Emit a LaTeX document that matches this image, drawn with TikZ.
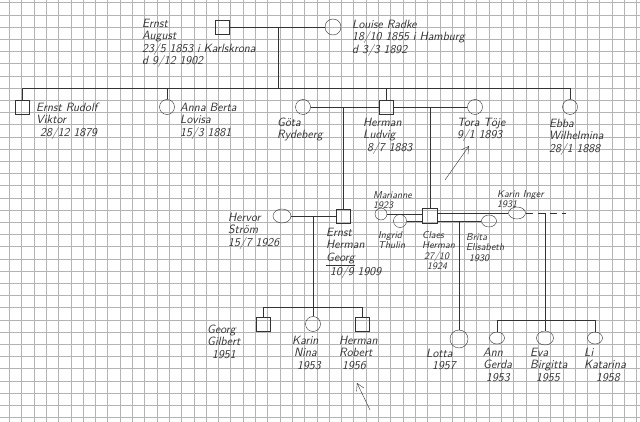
\documentclass[tikz,border=0pt]{standalone}
\usepackage{tikz}
\usetikzlibrary{positioning,arrows.meta,shapes.geometric}
\definecolor{pencil}{HTML}{333333}
\definecolor{paper}{HTML}{B4B4B4}

\begin{document}
\begin{tikzpicture}[x=1pt, y=-1pt,
    male/.style={draw=pencil, thin, minimum size=14pt, inner sep=0pt},
    female/.style={draw=pencil, thin, ellipse, minimum width=15pt,
    minimum height=15pt, inner sep=0pt},
    tie/.style={draw=pencil, thin},
    txt/.style={text=pencil, font=\sffamily\slshape\fontsize{12}{12.3}\selectfont,
    align=left, anchor=north west, inner sep=0pt},
    small/.style={txt, font=\sffamily\slshape\fontsize{10}{10.5}\selectfont},
    note/.style={draw=pencil, thin, -{Straight Barb[length=7pt,width=8pt]}},
  ]
  \fill[white] (0,0) rectangle (640,422);
  \useasboundingbox (0,0) rectangle (640,422);

  % graph paper
  \foreach \gx in {0,...,51}
    \draw[paper, line width=0.5pt] ({9.3+12.3*\gx},0) -- ++(0,422);
  \foreach \gy in {0,...,34}
    \draw[paper, line width=0.5pt] (0,{2.7+12.2*\gy}) -- ++(640,0);

  % first generation
  \node[male] (ernsta) at (222,27) {};
  \node[female, minimum size=16pt] (louise) at (333,27) {};
  \draw[tie] (ernsta) -- (louise);
  \coordinate (m1) at (278,27);
  \coordinate (s1w) at (22,88);
  \coordinate (s1e) at (570,88);
  \draw[tie] (m1) -- (m1 |- s1w);
  \draw[tie] (s1w) -- (s1e);

  % second generation
  \node[male] (rudolf) at (22,107) {};
  \node[female] (anna) at (167,107) {};
  \node[female] (gota) at (303,107) {};
  \node[male] (hermanl) at (386,107) {};
  \node[female] (tora) at (475,107) {};
  \node[female] (ebba) at (570,107) {};
  \foreach \c in {rudolf, anna, hermanl, ebba}
    \draw[tie] (\c.north) -- (\c.north |- s1w);
  \draw[tie] (gota) -- (hermanl) -- (tora);
  \coordinate (m2) at (343,107);
  \coordinate (m3) at (430,107);

  % third generation
  \node[female, minimum width=18pt, minimum height=14pt] (hervor) at (282,216) {};
  \node[male] (ernstg) at (343,216) {};
  \node[female, minimum size=12pt] (marianne) at (381,214) {};
  \node[female, minimum size=13pt] (ingrid) at (400,221) {};
  \node[male, minimum size=15pt] (claes) at (430,216) {};
  \node[female, minimum width=15pt, minimum height=12pt] (brita) at (489,221) {};
  \node[female, minimum width=17pt, minimum height=12pt] (karini) at (517,213) {};
  \draw[tie] (m2) -- (ernstg);
  \draw[tie] (m3) -- (claes);
  \draw[tie] (hervor) -- (ernstg);
  \draw[tie] (marianne) -- (marianne -| claes.west);
  \draw[tie] (ingrid) -- (ingrid -| claes.west);
  \draw[tie] (karini -| claes.east) -- (karini);
  \draw[tie] (brita -| claes.east) -- (brita);
  \draw[tie, dash pattern=on 7pt off 5pt] (karini.east) -- ++(40,0);
  \coordinate (m4) at (313,216);
  \coordinate (m5) at (459,221);
  \coordinate (m6) at (545,213);

  % fourth generation
  \coordinate (s4w) at (263,307);
  \coordinate (s4e) at (362,307);
  \coordinate (s6w) at (497,320);
  \coordinate (s6e) at (595,320);
  \node[male] (georgg) at (263,324) {};
  \node[female] (karinn) at (313,324) {};
  \node[male] (hermanr) at (362,324) {};
  \node[female, minimum size=18pt] (lotta) at (459,339) {};
  \node[female, minimum width=15pt, minimum height=12pt] (ann) at (497,338) {};
  \node[female, minimum width=17pt, minimum height=14pt] (eva) at (545,338) {};
  \node[female, minimum width=15pt, minimum height=12pt] (katarina) at (595,338) {};
  \draw[tie] (m4) -- (m4 |- s4w);
  \draw[tie] (s4w) -- (s4e);
  \foreach \c in {georgg, karinn, hermanr}
    \draw[tie] (\c.north) -- (\c.north |- s4w);
  \draw[tie] (m5) -- (lotta);
  \draw[tie] (m6) -- (m6 |- s6w);
  \draw[tie] (s6w) -- (s6e);
  \foreach \c in {ann, eva, katarina}
    \draw[tie] (\c.north) -- (\c.north |- s6w);

  % names and dates
  \node[txt] (t-ernsta) at (142,19) {Ernst\\August\\23/5 1853 i Karlskrona\\d 9/12 1902};
  \node[txt] (t-louise) at (352,20) {Louise Radke\\18/10 1855 i Hamburg\\d 3/3 1892};
  \node[txt] (t-rudolf) at (36,103) {Ernst Rudolf\\Viktor\\\hspace{4pt}28/12 1879};
  \node[txt] (t-anna) at (180,103) {Anna Berta\\Lovisa\\15/3 1881};
  \node[txt] (t-gota) at (277,118) {Göta\\Rydeberg};
  \node[txt] (t-hermanl) at (363,118) {Herman\\Ludvig\\\hspace{4pt}8/7 1883};
  \node[txt] (t-tora) at (457,118) {Tora Töje\\9/1 1893};
  \node[txt] (t-ebba) at (549,119) {Ebba\\Wilhelmina\\28/1 1888};
  \node[txt] (t-hervor) at (228,213) {Hervor\\Ström\\15/7 1926};
  \node[txt] (t-ernstg) at (326,228) {Ernst\\Herman\\\underline{Georg}\\\hspace{4pt}10/9 1909};
  \node[small] (t-marianne) at (373,191) {Marianne\\1923};
  \node[small] (t-ingrid) at (378,231) {Ingrid\\Thulin};
  \node[small] (t-claes) at (422,231) {Claes\\Herman\\\hspace{2pt}27/10\\\hspace{5pt}1924};
  \node[small] (t-brita) at (466,233) {Brita\\Elisabeth\\\hspace{3pt}1930};
  \node[small] (t-karini) at (497,190) {Karin Inger\\1931};
  \node[txt] (t-georgg) at (207,325) {Georg\\Gilbert\\\hspace{5pt}1951};
  \node[txt] (t-karinn) at (292,336) {Karin\\\hspace{2pt}Nina\\\hspace{5pt}1953};
  \node[txt] (t-hermanr) at (339,336) {Herman\\Robert\\\hspace{3pt}1956};
  \node[txt] (t-lotta) at (426,349) {Lotta\\\hspace{6pt}1957};
  \node[txt] (t-ann) at (483,348) {Ann\\Gerda\\\hspace{3pt}1953};
  \node[txt] (t-eva) at (530,348) {Eva\\Birgitta\\\hspace{6pt}1955};
  \node[txt] (t-katarina) at (584,348) {Li\\Katarina\\\hspace{12pt}1958};

  % pencil arrows
  \coordinate (a1) at (445,180);
  \coordinate (a2) at (469,146);
  \coordinate (a3) at (370,410);
  \coordinate (a4) at (357,383);
  \draw[note] (a1) -- (a2);
  \draw[note] (a3) -- (a4);
\end{tikzpicture}
\end{document}
